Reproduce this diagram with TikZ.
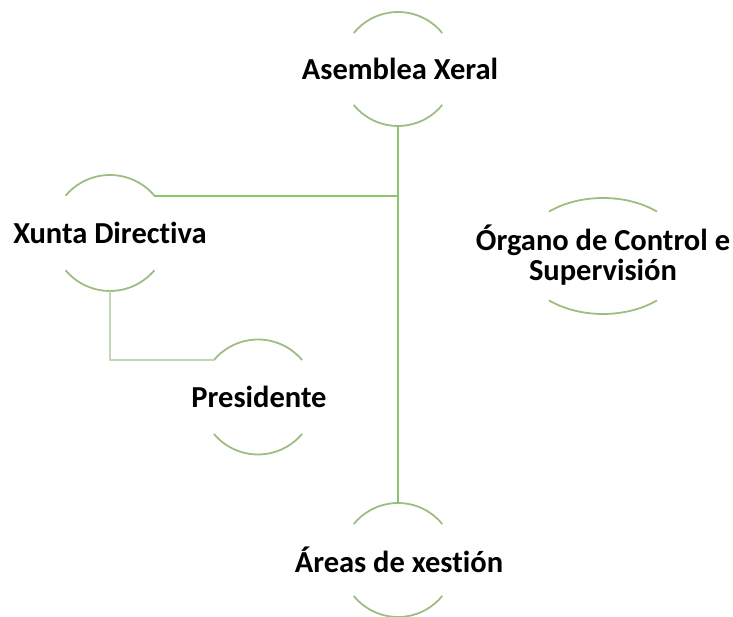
\documentclass[tikz,border=0pt]{standalone}
\usepackage{fontspec}
\setmainfont{Carlito}[Ligatures=NoCommon]
\begin{document}
\begin{tikzpicture}[x=1pt,y=1pt,
  lbl/.style={font=\fontsize{30.5}{30}\selectfont\bfseries, text=black, inner sep=0pt, align=center},
  arcline/.style={draw=arcgreen, line width=1.8pt},
  conn/.style={draw=linegreen, line width=1.8pt},
  connlight/.style={draw=lightgreen, line width=1.8pt}]
\definecolor{arcgreen}{HTML}{9DBD82}
\definecolor{linegreen}{HTML}{8CC46C}
\definecolor{lightgreen}{HTML}{C3D6B6}
\useasboundingbox (0,0) rectangle (733,617);
% nodes
\node[lbl] (as) at (400,548) {Asemblea Xeral};
\node[lbl] (xd) at (110,384) {Xunta Directiva};
\node[lbl] (pr) at (259,220) {Presidente};
\node[lbl] (og) at (603,362) {Órgano de Control e\\Supervisión};
\node[lbl] (ar) at (399,57) {Áreas de xestión};
% arcs
\draw[arcline] ([shift={(39:57)}]398,548) arc (39:141:57);
\draw[arcline] ([shift={(219:57)}]398,548) arc (219:321:57);
\draw[arcline] ([shift={(40:58)}]110,384) arc (40:140:58);
\draw[arcline] ([shift={(220:58)}]110,384) arc (220:320:58);
\draw[arcline] ([shift={(40:57.5)}]258,220) arc (40:140:57.5);
\draw[arcline] ([shift={(220:57.5)}]258,220) arc (220:320:57.5);
\draw[arcline] (603,361) ++(50:84 and 58) arc (50:130:84 and 58);
\draw[arcline] (603,361) ++(230:84 and 58) arc (230:310:84 and 58);
\draw[arcline] ([shift={(39:57)}]398,57) arc (39:141:57);
\draw[arcline] ([shift={(219:57)}]398,57) arc (219:321:57);
% connector end points
\coordinate (asS) at (398,491);
\coordinate (arN) at (398,114);
\coordinate (xdNE) at (154.4,421.3);
\coordinate (xdS) at (110,326);
\coordinate (prW) at (214,257);
% connectors
\draw[conn] (asS) -- (arN);
\draw[conn] (xdNE) -- (xdNE -| asS);
\draw[connlight] (xdS) |- (prW);
\end{tikzpicture}
\end{document}
